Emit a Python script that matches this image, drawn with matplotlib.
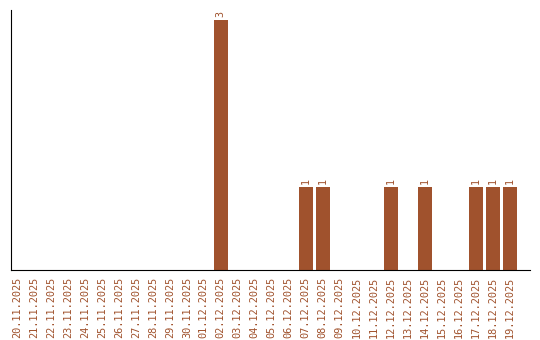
import matplotlib
matplotlib.use("Agg")
import matplotlib.pyplot as plt

dates = ["20.11.2025", "21.11.2025", "22.11.2025", "23.11.2025", "24.11.2025",
         "25.11.2025", "26.11.2025", "27.11.2025", "28.11.2025", "29.11.2025",
         "30.11.2025", "01.12.2025", "02.12.2025", "03.12.2025", "04.12.2025",
         "05.12.2025", "06.12.2025", "07.12.2025", "08.12.2025", "09.12.2025",
         "10.12.2025", "11.12.2025", "12.12.2025", "13.12.2025", "14.12.2025",
         "15.12.2025", "16.12.2025", "17.12.2025", "18.12.2025", "19.12.2025"]
values = [0, 0, 0, 0, 0, 0, 0, 0, 0, 0, 0, 0, 3, 0, 0, 0, 0, 1, 1, 0,
          0, 0, 1, 0, 1, 0, 0, 1, 1, 1]

color = "#A0522D"
fig = plt.figure(figsize=(5.4, 3.4), dpi=100)
ax = fig.add_axes([11/540, 70/340, 519/540, 260/340])
x = list(range(len(dates)))
ax.bar(x, values, width=0.82, color=color)
for xi, v in zip(x, values):
    if v > 0:
        ax.annotate(str(v), (xi, v), xytext=(0, 2), textcoords="offset points",
                    rotation=90, ha="center", va="bottom",
                    fontsize=7.3, color=color, family="DejaVu Sans Mono")
ax.set_xlim(-0.35, 30.2)
ax.set_ylim(0, 3.12)
ax.set_xticks(x)
ax.set_xticklabels(dates, rotation=90, fontsize=7.4, color=color,
                   family="DejaVu Sans Mono")
ax.tick_params(axis="x", length=0, pad=5)
ax.set_yticks([])
ax.spines["top"].set_visible(False)
ax.spines["right"].set_visible(False)
fig.savefig("out.png", dpi=100)
